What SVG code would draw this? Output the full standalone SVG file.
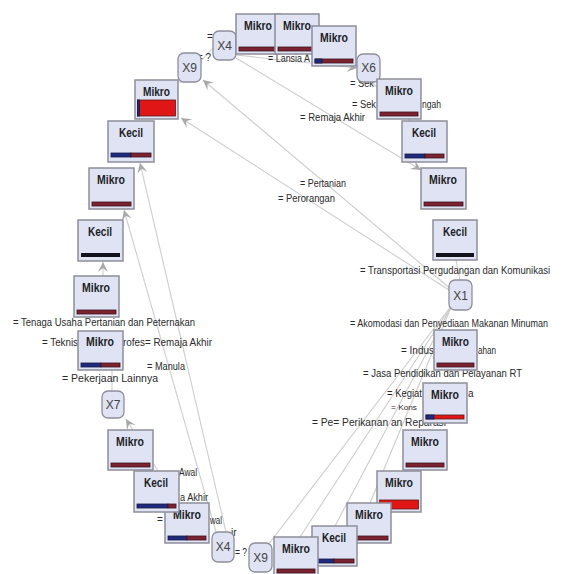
<svg xmlns="http://www.w3.org/2000/svg" width="567" height="574" viewBox="0 0 567 574">
<style>
.bg{fill:#ffffff}
.conn line{stroke:#cdcdcd;stroke-width:1.1;fill:none}
.box{fill:#dfe3f3;stroke:#8e8e9a;stroke-width:1.5}
.inner{fill:#dfe3f3;stroke:#8e8e9a;stroke-width:1.3}
.lt{font-family:"Liberation Sans",Arial,sans-serif;font-size:12px;font-weight:bold;fill:#1e1e28}
.it{font-family:"Liberation Sans",Arial,sans-serif;font-size:12px;fill:#444;text-anchor:middle}
.lab{font-family:"Liberation Sans",Arial,sans-serif;font-size:10px;fill:#2a2a2a}
.dr{fill:#7c2230;stroke:#3a1520;stroke-width:0.8}
.bl{fill:#1f2a7e;stroke:#151a40;stroke-width:0.8}
.rd{fill:#e01616;stroke:#5a1a1a;stroke-width:0.8}
.bk{fill:#12121c}
</style>
<defs>
<marker id="arr" markerUnits="userSpaceOnUse" markerWidth="12" markerHeight="12" refX="10" refY="5" orient="auto">
<path d="M0,0 L10,5 L0,10 L4,5 Z" fill="#a8a8a8"/>
</marker>
</defs>
<rect class="bg" x="0" y="0" width="567" height="574"/>

<g id="connectors" class="conn">
<line x1="452" y1="292" x2="181" y2="118" marker-end="url(#arr)"/>
<line x1="452" y1="290" x2="203" y2="80" marker-end="url(#arr)"/>
<line x1="236" y1="55" x2="357" y2="68" marker-end="url(#arr)"/>
<line x1="236" y1="58" x2="421" y2="170" marker-end="url(#arr)"/>
<line x1="216" y1="532" x2="124" y2="210" marker-end="url(#arr)"/>
<line x1="226" y1="532" x2="140" y2="163" marker-end="url(#arr)"/>
<line x1="103" y1="278" x2="103" y2="262" marker-end="url(#arr)"/>
<line x1="112" y1="371" x2="112" y2="391"/>
<line x1="158" y1="471" x2="126" y2="419" marker-end="url(#arr)"/>
<line x1="452" y1="305" x2="268" y2="545"/>
<line x1="452" y1="305" x2="300" y2="537"/>
<line x1="452" y1="305" x2="335" y2="526"/>
<line x1="452" y1="305" x2="370" y2="503"/>
<line x1="460" y1="280" x2="456" y2="260"/>
<line x1="200" y1="62" x2="213" y2="48"/>
<line x1="185" y1="82" x2="170" y2="82"/>
<line x1="372" y1="82" x2="410" y2="121"/>
</g>

<g id="labels">
<text class="lab" x="360" y="274" textLength="190" lengthAdjust="spacingAndGlyphs">= Transportasi Pergudangan dan Komunikasi</text>
<text class="lab" x="350" y="327" textLength="198" lengthAdjust="spacingAndGlyphs">= Akomodasi dan Penyediaan Makanan Minuman</text>
<text class="lab" x="401" y="354" textLength="33" lengthAdjust="spacingAndGlyphs">= Indus</text>
<text class="lab" x="478" y="354" textLength="18" lengthAdjust="spacingAndGlyphs">ahan</text>
<text class="lab" x="363" y="377" textLength="159" lengthAdjust="spacingAndGlyphs">= Jasa Pendidikan dan Pelayanan RT</text>
<text class="lab" x="387" y="397" textLength="35" lengthAdjust="spacingAndGlyphs">= Kegiat</text>
<text class="lab" x="468" y="397">a</text>
<text class="lab" x="391" y="410" style="font-size:8px" textLength="26" lengthAdjust="spacingAndGlyphs">= Kons</text>
<text class="lab" x="312" y="426" textLength="134" lengthAdjust="spacingAndGlyphs">= Pe= Perikanan an Reparasi</text>
<text class="lab" x="13" y="326" textLength="182" lengthAdjust="spacingAndGlyphs">= Tenaga Usaha Pertanian dan Peternakan</text>
<text class="lab" x="42" y="346" textLength="36" lengthAdjust="spacingAndGlyphs">= Teknis</text>
<text class="lab" x="123" y="346" textLength="22" lengthAdjust="spacingAndGlyphs">rofes</text>
<text class="lab" x="145" y="346" textLength="67" lengthAdjust="spacingAndGlyphs">= Remaja Akhir</text>
<text class="lab" x="147" y="370" textLength="38" lengthAdjust="spacingAndGlyphs">= Manula</text>
<text class="lab" x="62" y="382" textLength="96" lengthAdjust="spacingAndGlyphs">= Pekerjaan Lainnya</text>
<text class="lab" x="207" y="40">=</text>
<text class="lab" x="197" y="61" textLength="14" lengthAdjust="spacingAndGlyphs">= ?</text>
<text class="lab" x="268" y="62" textLength="42" lengthAdjust="spacingAndGlyphs">= Lansia A</text>
<text class="lab" x="300" y="121" textLength="65" lengthAdjust="spacingAndGlyphs">= Remaja Akhir</text>
<text class="lab" x="350" y="87" textLength="24" lengthAdjust="spacingAndGlyphs">= Sek</text>
<text class="lab" x="352" y="108" textLength="24" lengthAdjust="spacingAndGlyphs">= Sek</text>
<text class="lab" x="422" y="108" textLength="19" lengthAdjust="spacingAndGlyphs">ngah</text>
<text class="lab" x="300" y="187" textLength="46" lengthAdjust="spacingAndGlyphs">= Pertanian</text>
<text class="lab" x="278" y="202" textLength="57" lengthAdjust="spacingAndGlyphs">= Perorangan</text>
<text class="lab" x="179" y="476" textLength="18" lengthAdjust="spacingAndGlyphs">Awal</text>
<text class="lab" x="180" y="501" textLength="28" lengthAdjust="spacingAndGlyphs">a Akhir</text>
<text class="lab" x="157" y="523">=</text>
<text class="lab" x="210" y="524" textLength="12" lengthAdjust="spacingAndGlyphs">wal</text>
<text class="lab" x="231" y="536">ir</text>
<text class="lab" x="235" y="556" textLength="12" lengthAdjust="spacingAndGlyphs">= ?</text>
</g>

<g id="X4t"><rect class="inner" x="213" y="31" width="23" height="29" rx="6"/><text class="it" x="224.5" y="50">X4</text></g>
<g id="t1"><rect class="box" x="236" y="14" width="44" height="40"/><text class="lt" x="244" y="30" textLength="28" lengthAdjust="spacingAndGlyphs">Mikro</text><rect class="dr" x="239" y="47" width="38" height="4"/></g>
<g id="t2"><rect class="box" x="275" y="14" width="44" height="40"/><text class="lt" x="283" y="30" textLength="28" lengthAdjust="spacingAndGlyphs">Mikro</text><rect class="dr" x="278" y="47" width="38" height="4"/></g>
<g id="t3"><rect class="box" x="312" y="26" width="44" height="40"/><text class="lt" x="320" y="42" textLength="28" lengthAdjust="spacingAndGlyphs">Mikro</text><rect class="dr" x="315" y="59" width="38" height="4"/><rect class="bl" x="315" y="59" width="7" height="4"/></g>
<g id="X9t"><rect class="inner" x="178" y="53" width="23" height="29" rx="6"/><text class="it" x="189.5" y="72">X9</text></g>
<g id="mred"><rect class="box" x="135" y="80" width="43" height="39"/><text class="lt" x="143" y="96" textLength="27" lengthAdjust="spacingAndGlyphs">Mikro</text><rect class="rd" x="137.5" y="100" width="38" height="16"/><rect class="bl" x="137.5" y="100" width="2" height="16"/></g>
<g id="X6"><rect class="inner" x="357" y="54" width="23" height="28" rx="6"/><text class="it" x="368.5" y="72">X6</text></g>
<g id="mr1"><rect class="box" x="377" y="79" width="44" height="40"/><text class="lt" x="385" y="95" textLength="28" lengthAdjust="spacingAndGlyphs">Mikro</text><rect class="dr" x="380" y="112" width="38" height="4"/></g>
<g id="kr1"><rect class="box" x="402" y="121" width="45" height="41"/><text class="lt" x="412" y="137" textLength="24" lengthAdjust="spacingAndGlyphs">Kecil</text><rect class="bl" x="405" y="154" width="20" height="4"/><rect class="dr" x="425" y="154" width="19" height="4"/></g>
<g id="mr2"><rect class="box" x="421" y="168" width="45" height="41"/><text class="lt" x="429" y="184" textLength="28" lengthAdjust="spacingAndGlyphs">Mikro</text><rect class="dr" x="424" y="202" width="39" height="4"/></g>
<g id="kr2"><rect class="box" x="433" y="220" width="44" height="40"/><text class="lt" x="443" y="236" textLength="24" lengthAdjust="spacingAndGlyphs">Kecil</text><rect class="bk" x="436" y="253" width="38" height="4"/></g>
<g id="X1"><rect class="inner" x="449" y="280" width="23" height="30" rx="6"/><text class="it" x="460.5" y="300">X1</text></g>
<g id="mr3"><rect class="box" x="434" y="330" width="43" height="40"/><text class="lt" x="442" y="346" textLength="27" lengthAdjust="spacingAndGlyphs">Mikro</text><rect class="dr" x="437" y="363" width="37" height="4"/></g>
<g id="mr4"><rect class="box" x="423" y="383" width="44" height="40"/><text class="lt" x="431" y="399" textLength="28" lengthAdjust="spacingAndGlyphs">Mikro</text><rect class="rd" x="426" y="415" width="38" height="4"/><rect class="bl" x="426" y="415" width="8" height="4"/></g>
<g id="mr5"><rect class="box" x="403" y="430" width="44" height="40"/><text class="lt" x="411" y="446" textLength="28" lengthAdjust="spacingAndGlyphs">Mikro</text><rect class="dr" x="406" y="463" width="38" height="4"/></g>
<g id="mr6"><rect class="box" x="377" y="471" width="44" height="41"/><text class="lt" x="385" y="487" textLength="28" lengthAdjust="spacingAndGlyphs">Mikro</text><rect class="rd" x="379.5" y="500" width="39" height="9"/></g>
<g id="mr7"><rect class="box" x="347" y="503" width="44" height="40"/><text class="lt" x="355" y="519" textLength="28" lengthAdjust="spacingAndGlyphs">Mikro</text><rect class="dr" x="350" y="536" width="38" height="4"/></g>
<g id="kb1"><rect class="box" x="312" y="526" width="45" height="40"/><text class="lt" x="322" y="542" textLength="24" lengthAdjust="spacingAndGlyphs">Kecil</text><rect class="bl" x="315" y="559" width="19" height="4"/><rect class="dr" x="334" y="559" width="20" height="4"/></g>
<g id="mb1"><rect class="box" x="274" y="537" width="44" height="40"/><text class="lt" x="282" y="553" textLength="28" lengthAdjust="spacingAndGlyphs">Mikro</text><rect class="dr" x="277" y="569" width="38" height="4"/></g>
<g id="X9b"><rect class="inner" x="249" y="543" width="23" height="29" rx="6"/><text class="it" x="260.5" y="562">X9</text></g>
<g id="X4b"><rect class="inner" x="212" y="532" width="22" height="30" rx="6"/><text class="it" x="223" y="551">X4</text></g>
<g id="mb2"><rect class="box" x="165" y="503" width="44" height="40"/><text class="lt" x="173" y="519" textLength="28" lengthAdjust="spacingAndGlyphs">Mikro</text><rect class="bl" x="168" y="536" width="19" height="4"/><rect class="dr" x="187" y="536" width="19" height="4"/></g>
<g id="kb2"><rect class="box" x="134" y="471" width="45" height="41"/><text class="lt" x="144" y="487" textLength="24" lengthAdjust="spacingAndGlyphs">Kecil</text><rect class="bl" x="137" y="504" width="31" height="4"/><rect class="dr" x="168" y="504" width="8" height="4"/></g>
<g id="mb3"><rect class="box" x="108" y="430" width="45" height="40"/><text class="lt" x="116" y="446" textLength="28" lengthAdjust="spacingAndGlyphs">Mikro</text><rect class="dr" x="111" y="463" width="39" height="4"/></g>
<g id="X7"><rect class="inner" x="102" y="391" width="22" height="27" rx="6"/><text class="it" x="113" y="409">X7</text></g>
<g id="ml1"><rect class="box" x="78" y="331" width="45" height="39"/><text class="lt" x="86" y="346" textLength="28" lengthAdjust="spacingAndGlyphs">Mikro</text><rect class="bl" x="81" y="363" width="20" height="4"/><rect class="dr" x="101" y="363" width="19" height="4"/></g>
<g id="ml2"><rect class="box" x="74" y="276" width="45" height="41"/><text class="lt" x="82" y="292" textLength="28" lengthAdjust="spacingAndGlyphs">Mikro</text><rect class="dr" x="77" y="310" width="39" height="4"/></g>
<g id="kl1"><rect class="box" x="78" y="220" width="45" height="41"/><text class="lt" x="88" y="236" textLength="24" lengthAdjust="spacingAndGlyphs">Kecil</text><rect class="bk" x="81" y="253" width="39" height="4"/></g>
<g id="ml3"><rect class="box" x="89" y="168" width="45" height="41"/><text class="lt" x="97" y="184" textLength="28" lengthAdjust="spacingAndGlyphs">Mikro</text><rect class="dr" x="92" y="202" width="39" height="4"/></g>
<g id="kl2"><rect class="box" x="108" y="121" width="46" height="41"/><text class="lt" x="119" y="137" textLength="24" lengthAdjust="spacingAndGlyphs">Kecil</text><rect class="bl" x="111" y="153" width="20" height="4"/><rect class="dr" x="131" y="153" width="20" height="4"/></g>
</svg>
